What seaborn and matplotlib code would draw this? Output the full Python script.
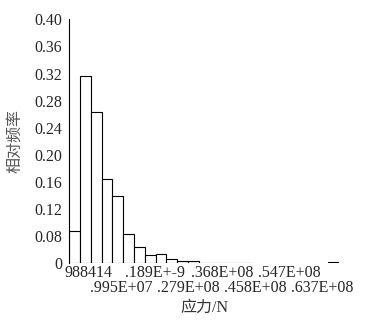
import numpy as np
import matplotlib.pyplot as plt
import seaborn as sns

sns.set_style("white")
plt.rcParams['font.family'] = ['Liberation Serif', 'Noto Sans CJK SC']

# histogram of stress: 25 equal bins, relative frequency per bin
# (read against the printed y axis, whose "0" sits one step below 0.08)
bin_idx = list(range(25))
rel_freq = [0.0876, 0.3158, 0.2627, 0.1639, 0.1388, 0.0832, 0.0636, 0.0522,
            0.0530, 0.0463, 0.0434, 0.0434, 0.0409, 0.0404, 0.0403, 0.0402,
            0.0402, 0, 0, 0, 0, 0, 0, 0, 0.0420]

y_floor = 0.04
ytick_vals = [0.04, 0.08, 0.12, 0.16, 0.20, 0.24, 0.28, 0.32, 0.36, 0.40]
ytick_labels = ['0', '0.08', '0.12', '0.16', '0.20', '0.24', '0.28', '0.32', '0.36', '0.40']
xtick_labels = ['988414', '.995E+07', '.189E+-9', '.279E+08',
                '.368E+08', '.458E+08', '.547E+08', '.637E+08']

fig = plt.figure(figsize=(3.7, 3.22), dpi=100)
ax = fig.add_axes([0.1873, 0.1823, 0.729, 0.7578])

freq = np.array(rel_freq, dtype=float)
heights = np.where(freq > y_floor, freq - y_floor, np.nan)
sns.barplot(x=bin_idx, y=heights, bottom=y_floor, width=1, errorbar=None,
            color='white', edgecolor='black', linewidth=0.8, ax=ax)

ax.set_ylim(y_floor, 0.40)
ax.set_yticks(ytick_vals)
ax.set_yticklabels(ytick_labels)
ax.set_yticks([0.40], minor=True)
ax.tick_params(axis='y', which='major', length=0, pad=5, labelsize=11.5)
ax.tick_params(axis='y', which='minor', direction='in', length=4, width=0.8)

# tick labels alternate between two rows: top row on major ticks, lower row on minor
xpos = 1.25 + 3.1 * np.arange(len(xtick_labels))
ax.set_xticks(xpos[0::2])
ax.set_xticklabels(xtick_labels[0::2])
ax.set_xticks(xpos[1::2], minor=True)
ax.set_xticklabels(xtick_labels[1::2], minor=True)
ax.tick_params(axis='x', which='major', length=0, pad=1, labelsize=11.5)
ax.tick_params(axis='x', which='minor', length=0, pad=12, labelsize=11.5)
ax.set_xlim(-0.5, 24.5)

for s in ['top', 'right', 'bottom']:
    ax.spines[s].set_visible(False)
ax.spines['left'].set_linewidth(0.8)
ax.spines['left'].set_color('black')

ax.set_xlabel('应力/N', fontsize=11.5, color='#333333', labelpad=3)
ax.set_ylabel('相对频率', fontsize=11.5, color='#555555', labelpad=8)

fig.savefig('out.png', dpi=100, facecolor='white')
